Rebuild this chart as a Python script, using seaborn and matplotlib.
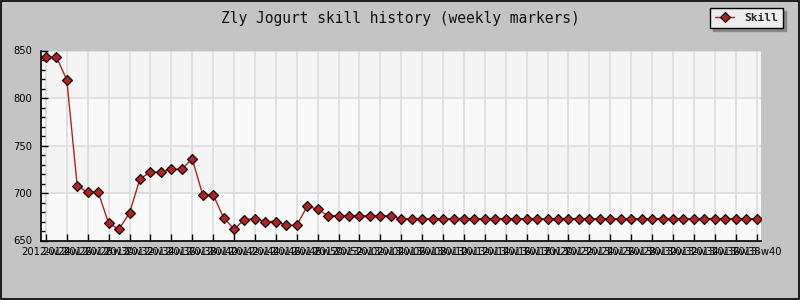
import matplotlib
matplotlib.use("Agg")
import matplotlib.pyplot as plt
from matplotlib.patches import Rectangle
from matplotlib.ticker import MultipleLocator
import seaborn as sns
import pandas as pd
import numpy as np

# ---- data ----
skill = [843, 843, 819, 707, 701, 701, 668, 662, 679, 715,
         722, 722, 725, 725, 736, 698, 698, 674, 662, 672,
         673, 670, 670, 666, 666, 686, 683, 676, 676, 676,
         676, 676, 676, 676] + [673] * 35
weeks = [f"2012-w{w:02d}" for w in range(24, 53)] + [f"2013-w{w:02d}" for w in range(1, 41)]
tick_labels = weeks[::2]

df = pd.DataFrame({"pos": np.arange(len(skill)), "Skill": skill, "week": weeks})

sns.set_style("white")
plt.rcParams["font.family"] = ["DejaVu Sans"]

fig = plt.figure(figsize=(8, 3), dpi=100)
fig.patch.set_facecolor("#c4c4c4")
ax = fig.add_axes([40.7 / 800, (300 - 240.5) / 300, (761 - 40.7) / 800, (240.5 - 50.5) / 300])
ax.set_facecolor("#f9f9f9")

# alternating bands
for lo, col in [(650, "#f9f9f9"), (700, "#f4f4f4"), (750, "#f9f9f9"), (800, "#f4f4f4")]:
    ax.axhspan(lo, lo + 50, color=col, zorder=0, lw=0)

sns.lineplot(data=df, x="pos", y="Skill", ax=ax, color="#b22222", lw=1,
             marker="D", markersize=5, markerfacecolor="#b22222",
             markeredgecolor="black", markeredgewidth=0.8, label="Skill", zorder=3)

ax.set_xlim(-0.5, 68.42)
ax.set_ylim(650, 850)
ax.set_xticks(df["pos"][::2])
ax.set_xticklabels(tick_labels)
ax.set_yticks([650, 700, 750, 800, 850])
ax.yaxis.set_minor_locator(MultipleLocator(10))
ax.grid(True, which="major", color="#dcdcdc", lw=1.2, zorder=1)
ax.set_axisbelow(True)
ax.set_xlabel("")
ax.set_ylabel("")

for s in ["top", "right"]:
    ax.spines[s].set_visible(False)
for s in ["left", "bottom"]:
    ax.spines[s].set_color("black")
    ax.spines[s].set_linewidth(1.2)

ax.tick_params(axis="both", which="major", direction="in", length=5, width=1,
               color="black", labelsize=7.2, labelcolor="black")
ax.tick_params(axis="y", which="minor", direction="in", length=3, width=1, color="black", left=True)
ax.tick_params(axis="y", which="major", left=True, pad=6)
ax.tick_params(axis="x", which="major", bottom=True, pad=5)

fig.text(0.5, 1 - 18 / 300, "Zly Jogurt skill history (weekly markers)",
         ha="center", va="center", family="DejaVu Sans Mono", fontsize=10.5, color="#111111")

leg = ax.legend(loc="upper right", bbox_to_anchor=(783 / 800, 1 - 8 / 300),
                bbox_transform=fig.transFigure, borderaxespad=0, frameon=True, fancybox=False,
                shadow={"color": "#888888", "alpha": 1}, edgecolor="black", facecolor="#eeeeee",
                framealpha=1, borderpad=0.45, handlelength=1.7, handletextpad=0.9,
                prop={"family": "DejaVu Sans Mono", "weight": "bold", "size": 8})
leg.get_frame().set_linewidth(1)

fig.patches.append(Rectangle((0.0008, 0.002), 0.9984, 0.995, transform=fig.transFigure,
                             fill=False, edgecolor="black", lw=1.2, zorder=10))

fig.savefig("out.png", dpi=100, facecolor=fig.get_facecolor())
